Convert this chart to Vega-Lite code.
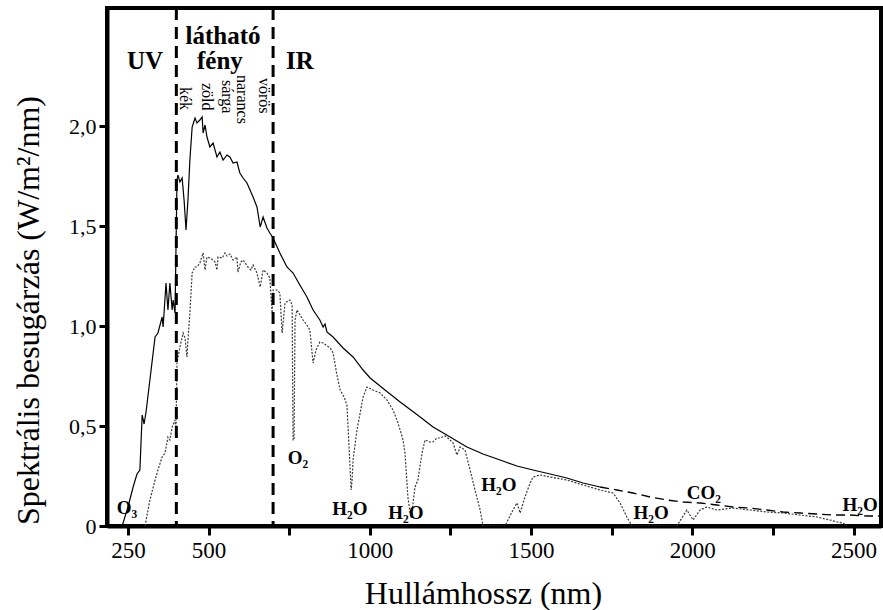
{
  "$schema": "https://vega.github.io/schema/vega-lite/v6.json",
  "width": 774,
  "height": 518,
  "autosize": {"type": "none"},
  "padding": {"left": 107, "top": 8, "right": 2, "bottom": 84},
  "background": "white",
  "config": {
    "font": "Liberation Serif",
    "view": {"stroke": "black", "strokeWidth": 4}
  },
  "datasets": {
    "spectrum": [
      {"s":"top","nm":232,"v":0},{"s":"top","nm":250,"v":0.095},{"s":"top","nm":266,"v":0.195},{"s":"top","nm":278,"v":0.26},{"s":"top","nm":287,"v":0.28},{"s":"top","nm":294,"v":0.555},{"s":"top","nm":300,"v":0.51},{"s":"top","nm":306,"v":0.57},{"s":"top","nm":318,"v":0.73},{"s":"top","nm":334,"v":0.945},{"s":"top","nm":343,"v":0.965},{"s":"top","nm":356,"v":1.045},{"s":"top","nm":359,"v":0.995},{"s":"top","nm":368,"v":1.215},{"s":"top","nm":374,"v":1.08},{"s":"top","nm":380,"v":1.215},{"s":"top","nm":387,"v":1.08},{"s":"top","nm":390,"v":1.13},{"s":"top","nm":396,"v":1.065},{"s":"top","nm":402,"v":1.73},{"s":"top","nm":405,"v":1.755},{"s":"top","nm":411,"v":1.72},{"s":"top","nm":418,"v":1.74},{"s":"top","nm":424,"v":1.63},{"s":"top","nm":430,"v":1.48},{"s":"top","nm":436,"v":1.63},{"s":"top","nm":442,"v":1.83},{"s":"top","nm":449,"v":1.995},{"s":"top","nm":458,"v":2.04},{"s":"top","nm":464,"v":2.015},{"s":"top","nm":473,"v":2.03},{"s":"top","nm":480,"v":2.045},{"s":"top","nm":483,"v":1.965},{"s":"top","nm":489,"v":2.005},{"s":"top","nm":495,"v":1.945},{"s":"top","nm":504,"v":1.895},{"s":"top","nm":514,"v":1.915},{"s":"top","nm":526,"v":1.845},{"s":"top","nm":535,"v":1.87},{"s":"top","nm":545,"v":1.83},{"s":"top","nm":557,"v":1.855},{"s":"top","nm":566,"v":1.845},{"s":"top","nm":576,"v":1.815},{"s":"top","nm":588,"v":1.82},{"s":"top","nm":597,"v":1.765},{"s":"top","nm":607,"v":1.74},{"s":"top","nm":619,"v":1.715},{"s":"top","nm":638,"v":1.645},{"s":"top","nm":650,"v":1.595},{"s":"top","nm":660,"v":1.495},{"s":"top","nm":669,"v":1.545},{"s":"top","nm":681,"v":1.49},{"s":"top","nm":690,"v":1.465},{"s":"top","nm":700,"v":1.44},{"s":"top","nm":721,"v":1.365},{"s":"top","nm":743,"v":1.295},{"s":"top","nm":762,"v":1.265},{"s":"top","nm":783,"v":1.205},{"s":"top","nm":805,"v":1.145},{"s":"top","nm":824,"v":1.08},{"s":"top","nm":845,"v":1.03},{"s":"top","nm":855,"v":0.995},{"s":"top","nm":861,"v":1.01},{"s":"top","nm":867,"v":0.97},{"s":"top","nm":886,"v":0.945},{"s":"top","nm":917,"v":0.89},{"s":"top","nm":948,"v":0.845},{"s":"top","nm":979,"v":0.78},{"s":"top","nm":1001,"v":0.74},{"s":"top","nm":1047,"v":0.68},{"s":"top","nm":1094,"v":0.62},{"s":"top","nm":1156,"v":0.545},{"s":"top","nm":1196,"v":0.495},{"s":"top","nm":1249,"v":0.445},{"s":"top","nm":1301,"v":0.395},{"s":"top","nm":1351,"v":0.36},{"s":"top","nm":1404,"v":0.33},{"s":"top","nm":1456,"v":0.3},{"s":"top","nm":1506,"v":0.28},{"s":"top","nm":1559,"v":0.26},{"s":"top","nm":1611,"v":0.24},{"s":"top","nm":1661,"v":0.215},{"s":"top","nm":1714,"v":0.195},
      {"s":"topd","nm":1714,"v":0.195},{"s":"topd","nm":1766,"v":0.18},{"s":"topd","nm":1816,"v":0.165},{"s":"topd","nm":1869,"v":0.145},{"s":"topd","nm":1921,"v":0.13},{"s":"topd","nm":1971,"v":0.12},{"s":"topd","nm":2024,"v":0.115},{"s":"topd","nm":2076,"v":0.105},{"s":"topd","nm":2126,"v":0.095},{"s":"topd","nm":2179,"v":0.09},{"s":"topd","nm":2231,"v":0.08},{"s":"topd","nm":2281,"v":0.07},{"s":"topd","nm":2334,"v":0.065},{"s":"topd","nm":2386,"v":0.06},{"s":"topd","nm":2436,"v":0.055},{"s":"topd","nm":2489,"v":0.055},{"s":"topd","nm":2542,"v":0.05},{"s":"topd","nm":2585,"v":0.05},
      {"s":"sea","nm":303,"v":0},{"s":"sea","nm":318,"v":0.13},{"s":"sea","nm":334,"v":0.23},{"s":"sea","nm":343,"v":0.28},{"s":"sea","nm":356,"v":0.345},{"s":"sea","nm":365,"v":0.365},{"s":"sea","nm":374,"v":0.445},{"s":"sea","nm":380,"v":0.43},{"s":"sea","nm":387,"v":0.495},{"s":"sea","nm":396,"v":0.53},{"s":"sea","nm":399,"v":0.48},{"s":"sea","nm":402,"v":0.815},{"s":"sea","nm":411,"v":0.895},{"s":"sea","nm":421,"v":0.965},{"s":"sea","nm":427,"v":0.94},{"s":"sea","nm":433,"v":0.845},{"s":"sea","nm":436,"v":0.93},{"s":"sea","nm":442,"v":1.065},{"s":"sea","nm":449,"v":1.265},{"s":"sea","nm":458,"v":1.295},{"s":"sea","nm":464,"v":1.295},{"s":"sea","nm":473,"v":1.315},{"s":"sea","nm":483,"v":1.365},{"s":"sea","nm":489,"v":1.28},{"s":"sea","nm":495,"v":1.345},{"s":"sea","nm":504,"v":1.34},{"s":"sea","nm":514,"v":1.33},{"s":"sea","nm":520,"v":1.32},{"s":"sea","nm":526,"v":1.28},{"s":"sea","nm":529,"v":1.345},{"s":"sea","nm":542,"v":1.34},{"s":"sea","nm":551,"v":1.365},{"s":"sea","nm":557,"v":1.35},{"s":"sea","nm":566,"v":1.36},{"s":"sea","nm":576,"v":1.33},{"s":"sea","nm":588,"v":1.345},{"s":"sea","nm":591,"v":1.27},{"s":"sea","nm":600,"v":1.32},{"s":"sea","nm":607,"v":1.33},{"s":"sea","nm":622,"v":1.295},{"s":"sea","nm":631,"v":1.28},{"s":"sea","nm":638,"v":1.305},{"s":"sea","nm":650,"v":1.265},{"s":"sea","nm":660,"v":1.195},{"s":"sea","nm":669,"v":1.28},{"s":"sea","nm":681,"v":1.265},{"s":"sea","nm":690,"v":1.24},{"s":"sea","nm":697,"v":1.065},{"s":"sea","nm":700,"v":1.18},{"s":"sea","nm":712,"v":1.18},{"s":"sea","nm":721,"v":1.165},{"s":"sea","nm":728,"v":0.965},{"s":"sea","nm":737,"v":1.115},{"s":"sea","nm":752,"v":1.13},{"s":"sea","nm":759,"v":1.105},{"s":"sea","nm":762,"v":0.43},{"s":"sea","nm":765,"v":0.43},{"s":"sea","nm":768,"v":1.03},{"s":"sea","nm":774,"v":1.08},{"s":"sea","nm":793,"v":1.03},{"s":"sea","nm":805,"v":1.005},{"s":"sea","nm":814,"v":0.98},{"s":"sea","nm":824,"v":0.815},{"s":"sea","nm":833,"v":0.88},{"s":"sea","nm":845,"v":0.92},{"s":"sea","nm":855,"v":0.915},{"s":"sea","nm":877,"v":0.89},{"s":"sea","nm":886,"v":0.865},{"s":"sea","nm":898,"v":0.755},{"s":"sea","nm":908,"v":0.68},{"s":"sea","nm":920,"v":0.645},{"s":"sea","nm":929,"v":0.605},{"s":"sea","nm":939,"v":0.28},{"s":"sea","nm":942,"v":0.18},{"s":"sea","nm":945,"v":0.23},{"s":"sea","nm":948,"v":0.33},{"s":"sea","nm":960,"v":0.48},{"s":"sea","nm":970,"v":0.565},{"s":"sea","nm":979,"v":0.645},{"s":"sea","nm":991,"v":0.695},{"s":"sea","nm":1010,"v":0.68},{"s":"sea","nm":1032,"v":0.665},{"s":"sea","nm":1053,"v":0.63},{"s":"sea","nm":1072,"v":0.58},{"s":"sea","nm":1084,"v":0.53},{"s":"sea","nm":1094,"v":0.48},{"s":"sea","nm":1103,"v":0.43},{"s":"sea","nm":1109,"v":0.365},{"s":"sea","nm":1118,"v":0.145},{"s":"sea","nm":1125,"v":0.065},{"s":"sea","nm":1128,"v":0.04},{"s":"sea","nm":1134,"v":0.115},{"s":"sea","nm":1140,"v":0.195},{"s":"sea","nm":1149,"v":0.23},{"s":"sea","nm":1162,"v":0.365},{"s":"sea","nm":1171,"v":0.43},{"s":"sea","nm":1187,"v":0.42},{"s":"sea","nm":1196,"v":0.42},{"s":"sea","nm":1208,"v":0.44},{"s":"sea","nm":1218,"v":0.44},{"s":"sea","nm":1233,"v":0.45},{"s":"sea","nm":1242,"v":0.44},{"s":"sea","nm":1258,"v":0.415},{"s":"sea","nm":1270,"v":0.355},{"s":"sea","nm":1280,"v":0.395},{"s":"sea","nm":1295,"v":0.38},{"s":"sea","nm":1311,"v":0.28},{"s":"sea","nm":1326,"v":0.18},{"s":"sea","nm":1342,"v":0.08},{"s":"sea","nm":1351,"v":0},{"s":"sea","nm":1419,"v":0},{"s":"sea","nm":1444,"v":0.08},{"s":"sea","nm":1456,"v":0.115},{"s":"sea","nm":1466,"v":0.065},{"s":"sea","nm":1481,"v":0.145},{"s":"sea","nm":1497,"v":0.215},{"s":"sea","nm":1506,"v":0.245},{"s":"sea","nm":1528,"v":0.255},{"s":"sea","nm":1559,"v":0.245},{"s":"sea","nm":1611,"v":0.23},{"s":"sea","nm":1661,"v":0.205},{"s":"sea","nm":1714,"v":0.18},{"s":"sea","nm":1754,"v":0.165},{"s":"sea","nm":1776,"v":0.115},{"s":"sea","nm":1797,"v":0.045},{"s":"sea","nm":1813,"v":0},{"s":"sea","nm":1952,"v":0},{"s":"sea","nm":1983,"v":0.08},{"s":"sea","nm":2002,"v":0.03},{"s":"sea","nm":2024,"v":0.08},{"s":"sea","nm":2045,"v":0.095},{"s":"sea","nm":2076,"v":0.08},{"s":"sea","nm":2126,"v":0.09},{"s":"sea","nm":2179,"v":0.08},{"s":"sea","nm":2231,"v":0.07},{"s":"sea","nm":2281,"v":0.065},{"s":"sea","nm":2334,"v":0.055},{"s":"sea","nm":2386,"v":0.045},{"s":"sea","nm":2427,"v":0.03},{"s":"sea","nm":2449,"v":0.02},{"s":"sea","nm":2467,"v":0.015},{"s":"sea","nm":2480,"v":0}
    ],
    "bands": [{"nm": 400}, {"nm": 700}],
    "regions": [
      {"nm": 303, "v": 2.325, "text": "UV"},
      {"nm": 545, "v": 2.45, "text": "látható"},
      {"nm": 535, "v": 2.325, "text": "fény"},
      {"nm": 783, "v": 2.325, "text": "IR"}
    ],
    "colors": [
      {"nm": 427, "v": 2.195, "text": "kék"},
      {"nm": 495, "v": 2.215, "text": "zöld"},
      {"nm": 557, "v": 2.23, "text": "sárga"},
      {"nm": 604, "v": 2.255, "text": "narancs"},
      {"nm": 672, "v": 2.24, "text": "vörös"}
    ],
    "gases": [
      {"nm": 247, "v": 0.09, "text": "O₃"},
      {"nm": 777, "v": 0.34, "text": "O₂"},
      {"nm": 938, "v": 0.085, "text": "H₂O"},
      {"nm": 1112, "v": 0.065, "text": "H₂O"},
      {"nm": 1400, "v": 0.205, "text": "H₂O"},
      {"nm": 1872, "v": 0.065, "text": "H₂O"},
      {"nm": 2036, "v": 0.165, "text": "CO₂"},
      {"nm": 2520, "v": 0.105, "text": "H₂O"}
    ]
  },
  "layer": [
    {
      "data": {"name": "spectrum"},
      "transform": [{"filter": "datum.s == 'sea'"}],
      "mark": {"type": "line", "color": "#3a3a3a", "strokeWidth": 1.2, "strokeDash": [2, 1.5], "clip": true},
      "encoding": {
        "x": {"field": "nm", "type": "quantitative", "scale": {"domain": [185, 2585], "nice": false, "zero": false},
          "axis": {"values": [250, 500, 750, 1000, 1250, 1500, 1750, 2000, 2250, 2500], "format": "d", "labelExpr": "datum.value % 500 == 0 || datum.value == 250 ? datum.label : ''", "grid": false, "domainColor": "black", "domainWidth": 4, "tickColor": "black", "tickWidth": 3, "tickSize": 9, "labelFont": "Liberation Serif", "labelFontSize": 23, "labelColor": "black", "labelPadding": 4, "labelFlush": false, "labelOverlap": false, "title": "Hullámhossz (nm)", "titleFont": "Liberation Serif", "titleFontSize": 32, "titleFontWeight": "normal", "titleColor": "black", "titleX": 376, "titleY": 77, "titleBaseline": "alphabetic"}},
        "y": {"field": "v", "type": "quantitative", "scale": {"domain": [0, 2.59], "nice": false, "zero": true},
          "axis": {"values": [0, 0.5, 1, 1.5, 2], "labelExpr": "datum.value == 0 ? '0' : replace(format(datum.value, '.1f'), '.', ',')", "grid": false, "domainColor": "black", "domainWidth": 4, "tickColor": "black", "tickWidth": 3, "tickSize": 8, "labelFont": "Liberation Serif", "labelFontSize": 22, "labelColor": "black", "labelPadding": 3, "labelFlush": false, "labelOverlap": false, "title": "Spektrális besugárzás (W/m²/nm)", "titleFont": "Liberation Serif", "titleFontSize": 32, "titleFontWeight": "normal", "titleColor": "black", "titleX": -69, "titleY": 302, "titleBaseline": "alphabetic"}}
      }
    },
    {
      "data": {"name": "spectrum"},
      "transform": [{"filter": "datum.s == 'top'"}],
      "mark": {"type": "line", "color": "black", "strokeWidth": 1.2, "clip": true},
      "encoding": {
        "x": {"field": "nm", "type": "quantitative", "scale": {"domain": [185, 2585], "nice": false, "zero": false}},
        "y": {"field": "v", "type": "quantitative", "scale": {"domain": [0, 2.59], "nice": false, "zero": true}}
      }
    },
    {
      "data": {"name": "spectrum"},
      "transform": [{"filter": "datum.s == 'topd'"}],
      "mark": {"type": "line", "color": "black", "strokeWidth": 1.3, "strokeDash": [9, 5], "clip": true},
      "encoding": {
        "x": {"field": "nm", "type": "quantitative", "scale": {"domain": [185, 2585], "nice": false, "zero": false}},
        "y": {"field": "v", "type": "quantitative", "scale": {"domain": [0, 2.59], "nice": false, "zero": true}}
      }
    },
    {
      "data": {"name": "bands"},
      "mark": {"type": "rule", "color": "black", "strokeWidth": 3, "strokeDash": [12, 7]},
      "encoding": {
        "x": {"field": "nm", "type": "quantitative", "scale": {"domain": [185, 2585], "nice": false, "zero": false}}
      }
    },
    {
      "data": {"name": "regions"},
      "mark": {"type": "text", "font": "Liberation Serif", "fontWeight": "bold", "fontSize": 25, "align": "center", "baseline": "middle", "color": "black"},
      "encoding": {
        "x": {"field": "nm", "type": "quantitative", "scale": {"domain": [185, 2585], "nice": false, "zero": false}},
        "y": {"field": "v", "type": "quantitative", "scale": {"domain": [0, 2.59], "nice": false, "zero": true}},
        "text": {"field": "text"}
      }
    },
    {
      "data": {"name": "colors"},
      "mark": {"type": "text", "font": "Liberation Serif", "fontSize": 16, "angle": 90, "align": "left", "baseline": "middle", "color": "black"},
      "encoding": {
        "x": {"field": "nm", "type": "quantitative", "scale": {"domain": [185, 2585], "nice": false, "zero": false}},
        "y": {"field": "v", "type": "quantitative", "scale": {"domain": [0, 2.59], "nice": false, "zero": true}},
        "text": {"field": "text"}
      }
    },
    {
      "data": {"name": "gases"},
      "mark": {"type": "text", "font": "Liberation Serif", "fontWeight": "bold", "fontSize": 19, "align": "center", "baseline": "middle", "color": "black"},
      "encoding": {
        "x": {"field": "nm", "type": "quantitative", "scale": {"domain": [185, 2585], "nice": false, "zero": false}},
        "y": {"field": "v", "type": "quantitative", "scale": {"domain": [0, 2.59], "nice": false, "zero": true}},
        "text": {"field": "text"}
      }
    }
  ]
}
